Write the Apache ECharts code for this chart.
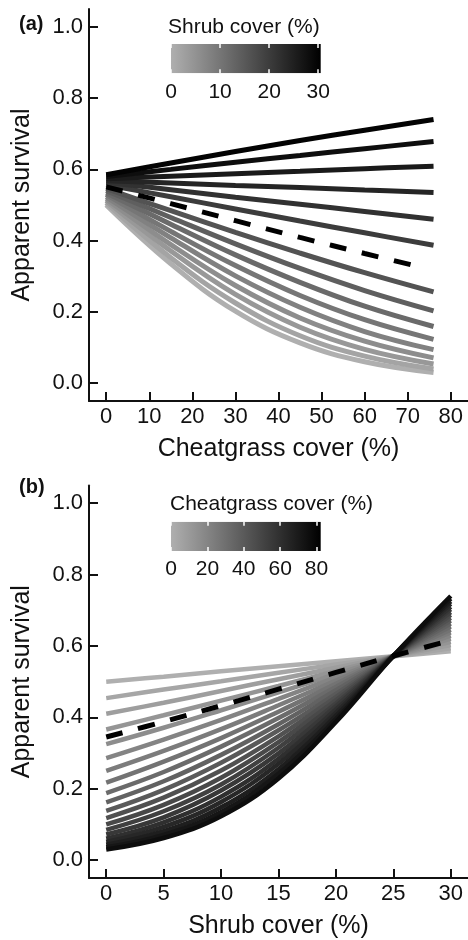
<!DOCTYPE html>
<html><head><meta charset="utf-8">
<script src="https://cdn.jsdelivr.net/npm/echarts@6/dist/echarts.min.js"></script>
<style>html,body{margin:0;padding:0;background:#fff}#c{width:468px;height:940px}</style>
</head><body><div id="c"></div>
<script>
// ---------- Panel (a): survival vs cheatgrass cover, one line per shrub cover level ----------
const cheatPointsA = [0, 15, 30, 45, 60, 76];
const shrubLevelsA = [0, 2, 4, 6, 8, 10, 12, 14, 16, 20, 22, 24, 26, 28, 30];
const survivalA = [
  [0.500, 0.335, 0.202, 0.113, 0.060, 0.030],
  [0.506, 0.352, 0.225, 0.133, 0.076, 0.040],
  [0.512, 0.371, 0.249, 0.157, 0.095, 0.054],
  [0.517, 0.389, 0.274, 0.183, 0.118, 0.071],
  [0.523, 0.408, 0.301, 0.213, 0.145, 0.094],
  [0.529, 0.426, 0.330, 0.246, 0.178, 0.123],
  [0.534, 0.446, 0.360, 0.283, 0.216, 0.159],
  [0.540, 0.465, 0.391, 0.322, 0.260, 0.203],
  [0.546, 0.484, 0.423, 0.365, 0.310, 0.256],
  [0.557, 0.523, 0.489, 0.455, 0.422, 0.387],
  [0.563, 0.543, 0.522, 0.502, 0.482, 0.460],
  [0.568, 0.562, 0.555, 0.549, 0.542, 0.535],
  [0.574, 0.581, 0.588, 0.595, 0.602, 0.609],
  [0.580, 0.600, 0.620, 0.639, 0.658, 0.678],
  [0.585, 0.618, 0.650, 0.681, 0.710, 0.740]
];
const meanShrubCheatX = [0, 15, 30, 45, 60, 74];
const meanShrubSurvival = [0.551, 0.504, 0.456, 0.409, 0.364, 0.323];

// ---------- Panel (b): survival vs shrub cover, one line per cheatgrass cover level ----------
const shrubPointsB = [0, 5, 10, 15, 20, 25, 30];
const cheatLevelsB = [0, 4, 8, 12, 16, 20, 24, 28, 32, 36, 40, 44, 48, 52, 56, 60, 64, 68, 72, 76];
const survivalB = [
  [0.500, 0.514, 0.529, 0.543, 0.557, 0.571, 0.585],
  [0.454, 0.478, 0.501, 0.525, 0.548, 0.571, 0.594],
  [0.410, 0.441, 0.474, 0.507, 0.539, 0.571, 0.603],
  [0.366, 0.406, 0.447, 0.488, 0.530, 0.571, 0.612],
  [0.325, 0.371, 0.420, 0.470, 0.521, 0.571, 0.621],
  [0.286, 0.338, 0.393, 0.452, 0.512, 0.572, 0.629],
  [0.250, 0.306, 0.367, 0.434, 0.503, 0.572, 0.638],
  [0.217, 0.276, 0.342, 0.416, 0.494, 0.572, 0.646],
  [0.188, 0.247, 0.318, 0.398, 0.485, 0.572, 0.655],
  [0.162, 0.221, 0.295, 0.381, 0.476, 0.572, 0.663],
  [0.138, 0.197, 0.273, 0.364, 0.466, 0.572, 0.671],
  [0.118, 0.175, 0.251, 0.347, 0.457, 0.572, 0.679],
  [0.100, 0.155, 0.231, 0.331, 0.448, 0.572, 0.687],
  [0.085, 0.137, 0.212, 0.315, 0.439, 0.572, 0.695],
  [0.072, 0.120, 0.195, 0.299, 0.431, 0.572, 0.703],
  [0.060, 0.106, 0.178, 0.284, 0.422, 0.572, 0.710],
  [0.051, 0.093, 0.163, 0.270, 0.413, 0.572, 0.718],
  [0.043, 0.081, 0.148, 0.255, 0.404, 0.572, 0.725],
  [0.036, 0.071, 0.135, 0.242, 0.395, 0.572, 0.733],
  [0.030, 0.062, 0.123, 0.229, 0.387, 0.572, 0.740]
];
const meanCheatShrubX = [0, 5, 10, 15, 20, 25, 30];
const meanCheatSurvival = [0.345, 0.388, 0.433, 0.479, 0.526, 0.572, 0.616];

// ---------- Tick labels ----------
const yTicks = [0, 0.2, 0.4, 0.6, 0.8, 1.0];
const xTicksA = [0, 10, 20, 30, 40, 50, 60, 70, 80];
const xTicksB = [0, 5, 10, 15, 20, 25, 30];
const colorbarTicksA = [0, 10, 20, 30];
const colorbarTicksB = [0, 20, 40, 60, 80];

// ---------- styling ----------
const FONT = 'Liberation Sans, Arial, Helvetica, sans-serif';
const INK = '#111';
const LIGHT = 175;
const COLOR_MAX_A = 30.5, COLOR_MAX_B = 82.3;
function grey(v, vmax) {
  const g = Math.round(LIGHT * (1 - v / vmax));
  return 'rgb(' + g + ',' + g + ',' + g + ')';
}

function mainX(gridIndex, min, max, ticks, name) {
  return {
    type: 'value', gridIndex, min, max, position: 'bottom',
    name, nameLocation: 'middle', nameGap: 36,
    nameTextStyle: { fontSize: 25, color: INK, fontFamily: FONT },
    axisLine: { show: true, onZero: false, lineStyle: { color: INK, width: 2 } },
    axisTick: { show: true, inside: true, length: 9, lineStyle: { color: INK, width: 2 }, customValues: ticks },
    axisLabel: { show: true, margin: 5, fontSize: 22, color: INK, fontFamily: FONT, customValues: ticks },
    splitLine: { show: false }
  };
}
function mainY(gridIndex) {
  return {
    type: 'value', gridIndex, min: -0.05, max: 1.05,
    name: 'Apparent survival', nameLocation: 'middle', nameRotate: 90, nameGap: 54,
    nameTextStyle: { fontSize: 25, color: INK, fontFamily: FONT },
    axisLine: { show: true, onZero: false, lineStyle: { color: INK, width: 2 } },
    axisTick: { show: true, inside: true, length: 9, lineStyle: { color: INK, width: 2 }, customValues: yTicks },
    axisLabel: { show: true, margin: 6, fontSize: 22, color: INK, fontFamily: FONT, customValues: yTicks,
      formatter: v => v.toFixed(1) },
    splitLine: { show: false }
  };
}
function cbarX(gridIndex, max, ticks, position, labels) {
  return {
    type: 'value', gridIndex, min: 0, max, position, z: 10,
    axisLine: { show: false },
    axisTick: { show: true, inside: true, length: 4, lineStyle: { color: '#fff', width: 1.5 }, customValues: ticks },
    axisLabel: { show: labels, margin: 8, fontSize: 21, color: INK, fontFamily: FONT, customValues: ticks },
    splitLine: { show: false }
  };
}
function cbarY(gridIndex) {
  return { type: 'value', gridIndex, min: 0, max: 1, show: false, splitLine: { show: false } };
}
function gradientSeries(xIdx, yIdx, max) {
  return {
    type: 'line', xAxisIndex: xIdx, yAxisIndex: yIdx, silent: true, symbol: 'none',
    data: [[0, 1], [max, 1]],
    lineStyle: { width: 0 },
    areaStyle: { opacity: 1, origin: 'start',
      color: new echarts.graphic.LinearGradient(0, 0, 1, 0, [
        { offset: 0, color: 'rgb(' + LIGHT + ',' + LIGHT + ',' + LIGHT + ')' },
        { offset: 1, color: '#000' }
      ]) }
  };
}

const SMOOTH = 0.4;
const series = [];
shrubLevelsA.forEach((s, i) => {
  series.push({
    type: 'line', xAxisIndex: 0, yAxisIndex: 0, silent: true, symbol: 'none',
    smooth: SMOOTH,
    data: cheatPointsA.map((c, j) => [c, survivalA[i][j]]),
    lineStyle: { color: grey(s, COLOR_MAX_A), width: 5, cap: 'butt' }
  });
});
series.push({
  type: 'line', xAxisIndex: 0, yAxisIndex: 0, silent: true, symbol: 'none',
  smooth: SMOOTH,
  data: meanShrubCheatX.map((c, j) => [c, meanShrubSurvival[j]]),
  lineStyle: { color: '#000', width: 5, type: [17, 16], cap: 'butt' }
});
cheatLevelsB.forEach((c, i) => {
  series.push({
    type: 'line', xAxisIndex: 1, yAxisIndex: 1, silent: true, symbol: 'none',
    smooth: SMOOTH,
    data: shrubPointsB.map((s, j) => [s, survivalB[i][j]]),
    lineStyle: { color: grey(c, COLOR_MAX_B), width: 4.5, cap: 'butt' }
  });
});
series.push({
  type: 'line', xAxisIndex: 1, yAxisIndex: 1, silent: true, symbol: 'none',
  smooth: SMOOTH,
  data: meanCheatShrubX.map((s, j) => [s, meanCheatSurvival[j]]),
  lineStyle: { color: '#000', width: 5, type: [17, 16], cap: 'butt' }
});
series.push(gradientSeries(2, 2, COLOR_MAX_A));
series.push(gradientSeries(4, 3, COLOR_MAX_B));

const option = {
  animation: false,
  backgroundColor: '#fff',
  textStyle: { fontFamily: FONT },
  title: [
    { text: '(a)', left: 19, top: 14, padding: 0, textStyle: { fontSize: 20, fontWeight: 'bold', color: INK, fontFamily: FONT } },
    { text: 'Shrub cover (%)', left: 168, top: 17, padding: 0, textStyle: { fontSize: 21, fontWeight: 'normal', color: INK, fontFamily: FONT } },
    { text: '(b)', left: 19, top: 477, padding: 0, textStyle: { fontSize: 20, fontWeight: 'bold', color: INK, fontFamily: FONT } },
    { text: 'Cheatgrass cover (%)', left: 170, top: 494, padding: 0, textStyle: { fontSize: 21, fontWeight: 'normal', color: INK, fontFamily: FONT } }
  ],
  grid: [
    { left: 89, top: 9, width: 379, height: 392 },
    { left: 89, top: 485.4, width: 379, height: 393.2 },
    { left: 171, top: 44, width: 149.7, height: 29.3 },
    { left: 171, top: 521.7, width: 149.7, height: 29.3 }
  ],
  xAxis: [
    mainX(0, -4, 84, xTicksA, 'Cheatgrass cover (%)'),
    mainX(1, -1.5, 31.5, xTicksB, 'Shrub cover (%)'),
    cbarX(2, COLOR_MAX_A, colorbarTicksA, 'bottom', true),
    cbarX(2, COLOR_MAX_A, colorbarTicksA, 'top', false),
    cbarX(3, COLOR_MAX_B, colorbarTicksB, 'bottom', true),
    cbarX(3, COLOR_MAX_B, colorbarTicksB, 'top', false)
  ],
  yAxis: [mainY(0), mainY(1), cbarY(2), cbarY(3)],
  series
};
const chart = echarts.init(document.getElementById('c'), null, { renderer: 'canvas' });
chart.setOption(option);
</script>
</body></html>
